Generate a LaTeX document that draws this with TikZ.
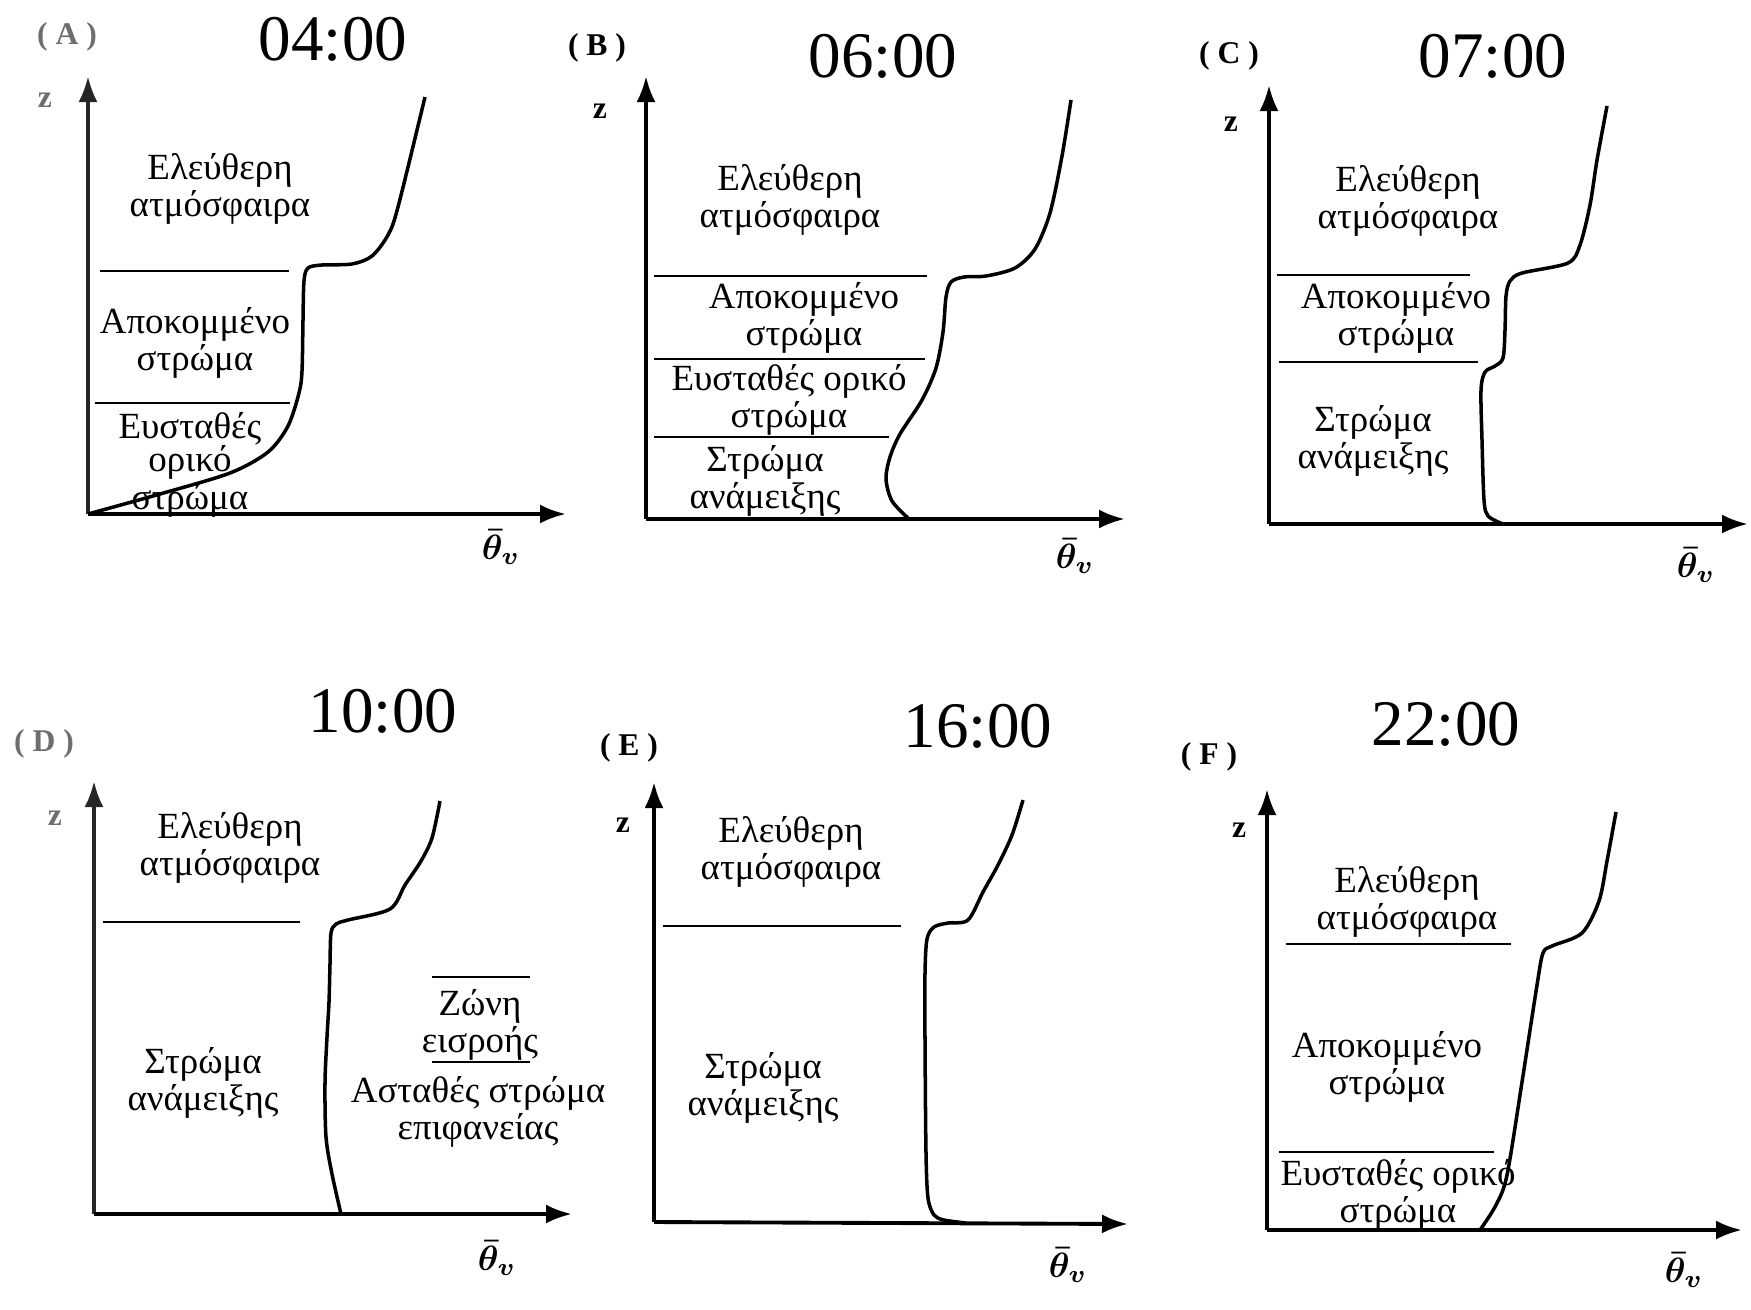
\documentclass[tikz,border=0pt]{standalone}
\usepackage{amsmath}
\usepackage{fontspec}
\setmainfont{Liberation Serif}
\usetikzlibrary{arrows.meta}
\definecolor{scangray}{RGB}{110,110,110}
\tikzset{
	axis/.style={line width=1.1pt, -{Latex[length=2.6mm,width=1.9mm]}},
	profile/.style={line width=1pt, line join=round},
	bound/.style={line width=0.7pt},
	lbl/.style={font=\fontsize{10.5}{9.4}\selectfont, align=center, inner sep=0pt},
	hour/.style={font=\fontsize{18.5}{20}\selectfont, inner sep=0pt},
	panel/.style={font=\fontsize{9}{10}\selectfont\bfseries, inner sep=0pt},
	zlab/.style={font=\fontsize{9}{10}\selectfont\bfseries, inner sep=0pt},
	thlab/.style={font=\fontsize{10}{11}\selectfont\boldmath, inner sep=0pt},
}

\begin{document}
\begin{tikzpicture}[x=0.1mm, y=-0.1mm]
	\useasboundingbox (0,0) rectangle (1751,1309);

	% (A) 04:00
	\node [panel, scangray] (pA) at (67,37) {( A )};
	\node [hour] (hA) at (333,39) {04:00};
	\node [zlab, scangray] (zA) at (45,100) {z};
	\draw [axis, black!85] (88,514) -- (88,76);
	\draw [axis] (88,514) -- (566,514);
	\node [thlab] (thA) at (501,547) {$\bar{\theta}_{v}$};
	\draw [bound] (100,271) -- (289,271);
	\draw [bound] (95,403) -- (290,403);
	\draw [profile] plot [smooth, tension=0.5] coordinates {(88,514) (160,494) (230,473) (268,452) (288,426) (299,393) (302,371) (303,320) (304,281) (308,268) (322,265) (352,264) (372,256) (388,235) (398,207) (425,97)};
	\node [lbl] (fA) at (220,189) {Ελεύθερη\\ατμόσφαιρα};
	\node [lbl] (rA) at (195,343) {Αποκομμένο\\στρώμα};
	\node [lbl] (sA) at (190,465) {Ευσταθές\\ορικό\\στρώμα};

	% (B) 06:00
	\node [panel] (pB) at (597,48) {( B )};
	\node [hour] (hB) at (883,56) {06:00};
	\node [zlab] (zB) at (600,111) {z};
	\draw [axis] (646,519) -- (646,76);
	\draw [axis] (646,519) -- (1125,519);
	\node [thlab] (thB) at (1075,556) {$\bar{\theta}_{v}$};
	\draw [bound] (654,276) -- (927,276);
	\draw [bound] (654,359) -- (925,359);
	\draw [bound] (654,437) -- (889,437);
	\draw [profile] plot [smooth, tension=0.5] coordinates {(909,519) (892,501) (886,479) (890,457) (900,434) (922,400) (936,368) (943,332) (946,297) (951,282) (964,277) (986,276) (1015,268) (1035,249) (1050,213) (1062,156) (1071,100)};
	\node [lbl] (fB) at (790,200) {Ελεύθερη\\ατμόσφαιρα};
	\node [lbl] (rB) at (804,318) {Αποκομμένο\\στρώμα};
	\node [lbl] (sB) at (789,400) {Ευσταθές ορικό\\στρώμα};
	\node [lbl] (mB) at (765,481) {Στρώμα\\ανάμειξης};

	% (C) 07:00
	\node [panel] (pC) at (1229,56) {( C )};
	\node [hour] (hC) at (1493,56) {07:00};
	\node [zlab] (zC) at (1231,124) {z};
	\draw [axis] (1269,524) -- (1269,85);
	\draw [axis] (1269,524) -- (1748,524);
	\node [thlab] (thC) at (1696,565) {$\bar{\theta}_{v}$};
	\draw [bound] (1277,275) -- (1470,275);
	\draw [bound] (1279,362) -- (1478,362);
	\draw [profile] plot [smooth, tension=0.5] coordinates {(1503,524) (1488,516) (1484,500) (1482,440) (1481,390) (1485,372) (1495,366) (1503,358) (1505,330) (1506,296) (1510,281) (1522,273) (1568,263) (1580,245) (1590,205) (1597,160) (1607,106)};
	\node [lbl] (fC) at (1408,201) {Ελεύθερη\\ατμόσφαιρα};
	\node [lbl] (rC) at (1396,318) {Αποκομμένο\\στρώμα};
	\node [lbl] (mC) at (1373,441) {Στρώμα\\ανάμειξης};

	% (D) 10:00
	\node [panel, scangray] (pD) at (44,744) {( D )};
	\node [hour] (hD) at (383,711) {10:00};
	\node [zlab, scangray] (zD) at (55,818) {z};
	\draw [axis, black!85] (94,1214) -- (94,781);
	\draw [axis] (94,1214) -- (572,1214);
	\node [thlab] (thD) at (497,1258) {$\bar{\theta}_{v}$};
	\draw [bound] (103,922) -- (300,922);
	\draw [bound] (432,977) -- (530,977);
	\draw [bound] (432,1062) -- (530,1062);
	\draw [profile] plot [smooth, tension=0.5] coordinates {(341,1214) (332,1174) (326,1137) (325,1083) (327,1037) (329,1002) (330,964) (331,933) (336,924) (348,920) (390,909) (405,885) (421,861) (432,838) (440,801)};
	\node [lbl] (fD) at (230,848) {Ελεύθερη\\ατμόσφαιρα};
	\node [lbl] (mD) at (203,1083) {Στρώμα\\ανάμειξης};
	\node [lbl] (iD) at (480,1025) {Ζώνη\\εισροής};
	\node [lbl] (uD) at (478,1112) {Ασταθές στρώμα\\επιφανείας};

	% (E) 16:00
	\node [panel] (pE) at (629,748) {( E )};
	\node [hour] (hE) at (978,726) {16:00};
	\node [zlab] (zE) at (623,825) {z};
	\draw [axis] (654,1222) -- (654,782);
	\draw [axis] (654,1222) -- (1128,1224);
	\node [thlab] (thE) at (1068,1265) {$\bar{\theta}_{v}$};
	\draw [bound] (663,926) -- (901,926);
	\draw [profile] plot [smooth, tension=0.5] coordinates {(966,1223) (944,1220) (934,1215) (928,1198) (926,1153) (925,1040) (925,973) (927,939) (934,927) (948,923) (968,920) (983,892) (998,865) (1012,835) (1023,800)};
	\node [lbl] (fE) at (791,852) {Ελεύθερη\\ατμόσφαιρα};
	\node [lbl] (mE) at (763,1088) {Στρώμα\\ανάμειξης};

	% (F) 22:00
	\node [panel] (pF) at (1209,757) {( F )};
	\node [hour] (hF) at (1446,724) {22:00};
	\node [zlab] (zF) at (1239,830) {z};
	\draw [axis] (1267,1230) -- (1267,789);
	\draw [axis] (1267,1230) -- (1742,1230);
	\node [thlab] (thF) at (1684,1270) {$\bar{\theta}_{v}$};
	\draw [bound] (1286,944) -- (1511,944);
	\draw [bound] (1279,1152) -- (1494,1152);
	\draw [profile] plot [smooth, tension=0.5] coordinates {(1480,1230) (1496,1205) (1507,1175) (1522,1082) (1537,985) (1543,953) (1552,946) (1582,933) (1599,901) (1607,861) (1616,812)};
	\node [lbl] (fF) at (1407,902) {Ελεύθερη\\ατμόσφαιρα};
	\node [lbl] (rF) at (1387,1067) {Αποκομμένο\\στρώμα};
	\node [lbl] (sF) at (1398,1195) {Ευσταθές ορικό\\στρώμα};
\end{tikzpicture}
\end{document}
